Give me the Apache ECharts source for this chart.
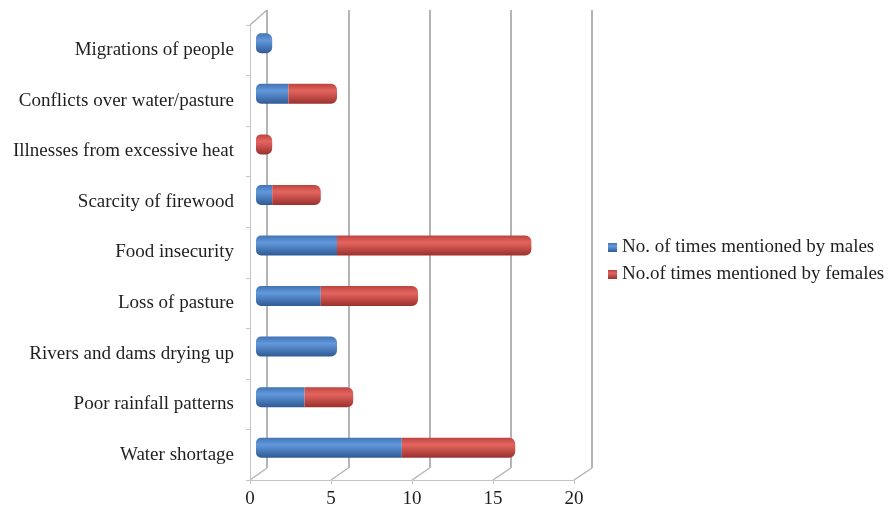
<!DOCTYPE html>
<html>
<head>
<meta charset="utf-8">
<script src="https://cdn.jsdelivr.net/npm/echarts@6/dist/echarts.min.js"></script>
<style>
  html, body { margin: 0; padding: 0; background: #fff; }
  #main { width: 891px; height: 509px; }
</style>
</head>
<body>
<div id="main"></div>
<script>
var categories = ['Migrations of people', 'Conflicts over water/pasture', 'Illnesses from excessive heat',
  'Scarcity of firewood', 'Food insecurity', 'Loss of pasture', 'Rivers and dams drying up',
  'Poor rainfall patterns', 'Water shortage'];
var males   = [1, 2, 0, 1, 5, 4, 5, 3, 9];
var females = [0, 3, 1, 3, 12, 6, 0, 3, 7];
var xTicks = [0, 5, 10, 15, 20];

var FONT = '"Liberation Serif", "Times New Roman", serif';
var GRID = '#b4b4b4';

function grad(top, mid, bottom) {
  return new echarts.graphic.LinearGradient(0, 0, 0, 1, [
    {offset: 0, color: top}, {offset: 0.35, color: mid}, {offset: 1, color: bottom}
  ]);
}
var blueFill = grad('#4274b5', '#6299dc', '#2f5a94');
var redFill = grad('#bd433f', '#e4655f', '#9a302d');

// round the outer ends of each stacked cylinder
var maleData = males.map(function (v, i) {
  return {value: v, itemStyle: {borderRadius: [5, females[i] ? 0 : 6, females[i] ? 0 : 6, 5]}};
});
var femaleData = females.map(function (v, i) {
  return {value: v, itemStyle: {borderRadius: [males[i] ? 0 : 5, 6, 6, males[i] ? 0 : 5]}};
});

var myChart = echarts.init(document.getElementById('main'));

var option = {
  animation: false,
  textStyle: {fontFamily: FONT},
  grid: [
    {left: 267, width: 325, top: 10, height: 458},   // back wall
    {left: 256, width: 324, top: 18, height: 455},   // bars
    {left: 250, width: 324, top: 25, height: 455}    // front axes
  ],
  legend: {
    orient: 'vertical', left: 603, top: 233, itemWidth: 9, itemHeight: 9, itemGap: 8,
    icon: 'rect',
    textStyle: {fontFamily: FONT, fontSize: 19, color: '#1f1f1f'},
    data: ['No. of times mentioned by males', 'No.of times mentioned by females']
  },
  xAxis: [
    {gridIndex: 0, type: 'value', min: 0, max: 20, interval: 5,
      axisLine: {show: false}, axisTick: {show: false}, axisLabel: {show: false},
      splitLine: {show: true, lineStyle: {color: GRID, width: 2}}},
    {gridIndex: 1, type: 'value', min: 0, max: 20, interval: 5, show: false},
    {gridIndex: 2, type: 'value', min: 0, max: 20, interval: 5,
      axisLine: {show: true, lineStyle: {color: '#c4c4c4'}},
      axisTick: {show: true, length: 4, lineStyle: {color: '#c4c4c4'}},
      axisLabel: {margin: 10, fontSize: 19, color: '#1f1f1f', fontFamily: FONT,
        formatter: function (v) { return xTicks.indexOf(v) >= 0 ? String(v) : ''; }},
      splitLine: {show: false}}
  ],
  yAxis: [
    {gridIndex: 0, type: 'category', data: categories, inverse: true, show: false},
    {gridIndex: 1, type: 'category', data: categories, inverse: true, show: false},
    {gridIndex: 2, type: 'category', data: categories, inverse: true,
      axisLine: {show: true, lineStyle: {color: '#c4c4c4'}},
      axisTick: {show: true, length: 4, inside: false, lineStyle: {color: '#c4c4c4'}},
      axisLabel: {margin: 16, fontSize: 19, color: '#1f1f1f', fontFamily: FONT}}
  ],
  series: [
    {name: 'No. of times mentioned by males', type: 'bar', stack: 'a',
      xAxisIndex: 1, yAxisIndex: 1, barWidth: 20, data: maleData,
      itemStyle: {color: blueFill}},
    {name: 'No.of times mentioned by females', type: 'bar', stack: 'a',
      xAxisIndex: 1, yAxisIndex: 1, barWidth: 20, data: femaleData,
      itemStyle: {color: redFill}}
  ]
};
myChart.setOption(option);

// perspective edges joining back wall and front axes
var lines = [];
var bottomIdx = categories.length - 1;
var backY = option.grid[0].top + option.grid[0].height;
var frontY = option.grid[2].top + option.grid[2].height;
xTicks.forEach(function (t) {
  var b = myChart.convertToPixel({xAxisIndex: 0, yAxisIndex: 0}, [t, bottomIdx]);
  var f = myChart.convertToPixel({xAxisIndex: 2, yAxisIndex: 2}, [t, bottomIdx]);
  lines.push({type: 'line', shape: {x1: b[0], y1: backY, x2: f[0], y2: frontY},
    style: {stroke: GRID, lineWidth: 1.5}, silent: true});
});
var b0 = myChart.convertToPixel({xAxisIndex: 0, yAxisIndex: 0}, [0, 0]);
var f0 = myChart.convertToPixel({xAxisIndex: 2, yAxisIndex: 2}, [0, 0]);
lines.push({type: 'line', shape: {x1: b0[0], y1: option.grid[0].top, x2: f0[0], y2: option.grid[2].top},
  style: {stroke: GRID, lineWidth: 1.5}, silent: true});
myChart.setOption({graphic: lines});
</script>
</body>
</html>
